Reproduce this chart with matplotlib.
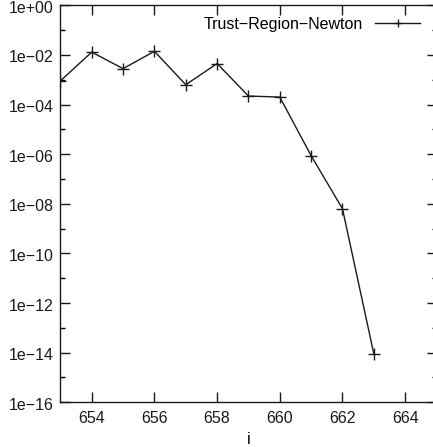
import matplotlib
matplotlib.use("Agg")
import matplotlib.pyplot as plt
import matplotlib.transforms as mtransforms
from matplotlib.ticker import FixedLocator, NullFormatter

plt.rcParams['font.family'] = ['Liberation Sans', 'DejaVu Sans']

iters = [653, 654, 655, 656, 657, 658, 659, 660, 661, 662, 663]
values = [9e-4, 1.3e-2, 2.8e-3, 1.4e-2, 6.3e-4, 4.5e-3, 2.2e-4, 2.0e-4, 8.7e-7, 6.3e-9, 9e-15]
series_label = "Trust\u2212Region\u2212Newton"
xticks = [654, 656, 658, 660, 662, 664]
ytick_exps = [0, -2, -4, -6, -8, -10, -12, -14, -16]
yminor_exps = [-1, -3, -5, -7, -9, -11, -13, -15]

W, H = 433, 447
fig = plt.figure(figsize=(W / 100, H / 100), dpi=100)
left, right, top, bottom = 60.4, 436.5, 5.3, 402.3
ax = fig.add_axes([left / W, 1 - bottom / H, (right - left) / W, (bottom - top) / H])

ax.plot(iters, values, color='#1a1a1a', lw=1.0, marker='+', ms=8, mew=1.0,
        label=series_label)
ax.set_yscale('log')
ax.set_xlim(653, 665)
ax.set_ylim(1e-16, 1e0)

ax.xaxis.set_major_locator(FixedLocator(xticks))
ax.set_xticklabels([str(x) for x in xticks])
ax.yaxis.set_major_locator(FixedLocator([10.0 ** e for e in ytick_exps]))
ax.set_yticklabels([("1e+%02d" % e) if e >= 0 else ("1e\u2212%02d" % -e) for e in ytick_exps])
ax.yaxis.set_minor_locator(FixedLocator([10.0 ** e for e in yminor_exps]))
ax.yaxis.set_minor_formatter(NullFormatter())
ax.xaxis.set_minor_locator(FixedLocator([]))

ax.tick_params(which='major', direction='in', length=7, width=1, top=True, right=True,
               labelsize=11.5, pad=5, colors='#1a1a1a')
ax.tick_params(axis='x', which='major', pad=6.5)
ax.tick_params(which='minor', direction='in', length=3.5, width=1, top=True, right=True)
for s in ax.spines.values():
    s.set_linewidth(1.0)
    s.set_color('#1a1a1a')

shift = mtransforms.ScaledTranslation(0, -1.5 / 100, fig.dpi_scale_trans)
for lbl in ax.get_yticklabels():
    lbl.set_transform(lbl.get_transform() + shift)

ax.set_xlabel('i', fontsize=11.5, labelpad=4)

leg = ax.legend(loc='upper right', frameon=False, fontsize=11.5, markerfirst=False,
                handlelength=2.8, borderaxespad=0.0, borderpad=0.0,
                bbox_to_anchor=(0.956, 0.971), handletextpad=0.75, markerscale=0.8)

fig.savefig('out.png', dpi=100)
